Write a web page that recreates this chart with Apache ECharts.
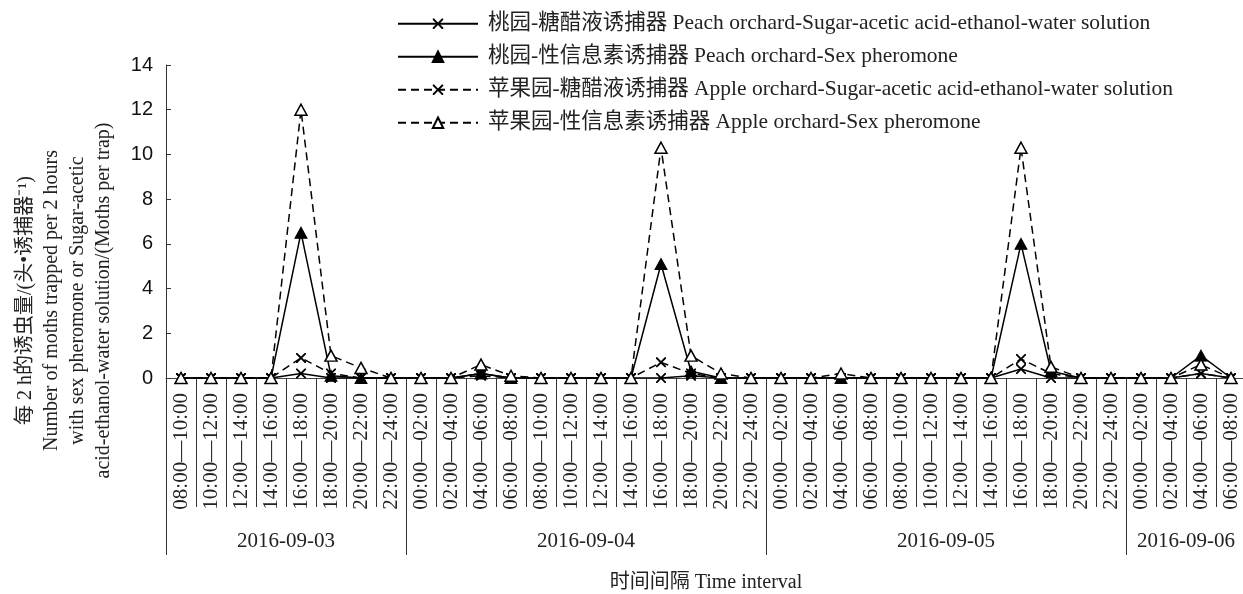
<!DOCTYPE html>
<html><head><meta charset="utf-8">
<script src="https://cdn.jsdelivr.net/npm/echarts@6/dist/echarts.min.js"></script>
<style>html,body{margin:0;padding:0;background:#fff}#chart{width:1243px;height:594px}</style>
</head><body><div id="chart"></div>
<script>
// ---- data ----
const days = ['2016-09-03', '2016-09-04', '2016-09-05', '2016-09-06'];
const daySlotCounts = [8, 12, 12, 4];
const timeSlots = [
  '08:00—10:00','10:00—12:00','12:00—14:00','14:00—16:00','16:00—18:00','18:00—20:00','20:00—22:00','22:00—24:00',
  '00:00—02:00','02:00—04:00','04:00—06:00','06:00—08:00','08:00—10:00','10:00—12:00','12:00—14:00','14:00—16:00','16:00—18:00','18:00—20:00','20:00—22:00','22:00—24:00',
  '00:00—02:00','02:00—04:00','04:00—06:00','06:00—08:00','08:00—10:00','10:00—12:00','12:00—14:00','14:00—16:00','16:00—18:00','18:00—20:00','20:00—22:00','22:00—24:00',
  '00:00—02:00','02:00—04:00','04:00—06:00','06:00—08:00'
];
const seriesNames = [
  '桃园-糖醋液诱捕器 Peach orchard-Sugar-acetic acid-ethanol-water solution',
  '桃园-性信息素诱捕器 Peach orchard-Sex pheromone',
  '苹果园-糖醋液诱捕器 Apple orchard-Sugar-acetic acid-ethanol-water solution',
  '苹果园-性信息素诱捕器 Apple orchard-Sex pheromone'
];
const peachSugar = [0,0,0,0,0.2,0,0,0, 0,0,0.2,0,0,0,0,0,0,0.1,0,0, 0,0,0,0,0,0,0,0,0.4,0,0,0, 0,0,0.2,0];
const peachSex   = [0,0,0,0,6.5,0.1,0,0, 0,0,0.2,0,0,0,0,0,5.1,0.3,0,0, 0,0,0,0,0,0,0,0,6.0,0.3,0,0, 0,0,1.0,0];
const appleSugar = [0,0,0,0,0.9,0.2,0,0, 0,0,0.1,0,0,0,0,0,0.7,0.2,0,0, 0,0,0,0,0,0,0,0,0.85,0.2,0,0, 0,0,0.2,0];
const appleSex   = [0,0,0,0,12,1.0,0.45,0, 0,0,0.6,0.1,0,0,0,0,10.3,1.0,0.2,0, 0,0,0.2,0,0,0,0,0,10.3,0.5,0,0, 0,0,0.6,0];
const yMin = 0, yMax = 14, yStep = 2;
const yAxisName = '每 2 h的诱虫量/(头•诱捕器⁻¹)\nNumber of moths trapped per 2 hours\nwith sex pheromone or Sugar-acetic\nacid-ethanol-water solution/(Moths per trap)';
const xAxisName = '时间间隔 Time interval';

// ---- derived day-boundary axis (boundaries 0..N) ----
const nSlots = timeSlots.length;
const dayEdges = [0];
const dayLabelAt = {};
let acc = 0;
daySlotCounts.forEach((c, i) => { dayLabelAt[acc + c / 2] = days[i]; acc += c; dayEdges.push(acc); });
const boundaryData = [];
for (let b = 0; b <= nSlots; b++) boundaryData.push('b' + b);

const SERIF = "'Liberation Serif','Times New Roman','Noto Sans CJK SC',serif";
const SANS = "'Liberation Sans',Arial,sans-serif";
const X_PATH = 'path://M0,0L1.3,0L5,3.7L8.7,0L10,0L10,1.3L6.3,5L10,8.7L10,10L8.7,10L5,6.3L1.3,10L0,10L0,8.7L3.7,5L0,1.3Z';

function mk(name, data, dashed, symbol, fill, size, border) {
  return {
    name, type: 'line', data, xAxisIndex: 0, yAxisIndex: 0,
    symbol, symbolSize: size, showSymbol: true, showAllSymbol: true,
    lineStyle: { color: '#000', width: 1.5, type: dashed ? [8, 5] : 'solid' },
    itemStyle: { color: fill, borderColor: '#000', borderWidth: border, opacity: 1 },
    emphasis: { disabled: true }, animation: false
  };
}

const chart = echarts.init(document.getElementById('chart'), null, { renderer: 'canvas' });
chart.setOption({
  backgroundColor: '#fff',
  animation: false,
  grid: { left: 166, top: 65, width: 1080, height: 313, outerBoundsMode: 'none', containLabel: false },
  legend: {
    orient: 'vertical', left: 392, top: 8,
    itemWidth: 80, itemHeight: 13, itemGap: 11.5,
    data: seriesNames,
    textStyle: { fontFamily: SERIF, fontSize: 21.5, color: '#222', lineHeight: 20, padding: [0, 0, 0, 5] },
    selectedMode: false
  },
  xAxis: [
    {
      type: 'category', position: 'bottom', data: timeSlots, boundaryGap: true,
      axisLine: { show: true, onZero: false, lineStyle: { color: '#444', width: 1 } },
      axisTick: { show: true, interval: 0, length: 129, lineStyle: { color: '#333', width: 1 } },
      axisLabel: { interval: 0, rotate: 90, margin: 15, fontFamily: SERIF, fontSize: 21, color: '#222' },
      splitLine: { show: false }
    },
    {
      type: 'category', position: 'bottom', data: boundaryData, boundaryGap: false,
      axisLine: { show: false, onZero: false },
      axisTick: { show: true, length: 177, interval: (i) => dayEdges.indexOf(i) >= 0, lineStyle: { color: '#333', width: 1 } },
      axisLabel: { interval: 0, margin: 153, fontFamily: SERIF, fontSize: 21, color: '#222',
        formatter: (v, i) => dayLabelAt[i] || '' },
      splitLine: { show: false },
      name: xAxisName, nameLocation: 'middle', nameGap: 195,
      nameTextStyle: { fontFamily: SERIF, fontSize: 20, color: '#222' }
    }
  ],
  yAxis: {
    type: 'value', min: yMin, max: yMax, interval: yStep,
    axisLine: { show: true, lineStyle: { color: '#333', width: 1 } },
    axisTick: { show: true, inside: true, length: 5, lineStyle: { color: '#333' } },
    axisLabel: { fontFamily: SANS, fontSize: 20, color: '#111', margin: 13 },
    splitLine: { show: false },
    name: yAxisName, nameLocation: 'middle', nameRotate: 90, nameGap: 49,
    nameTextStyle: { fontFamily: SERIF, fontSize: 20, color: '#222', lineHeight: 26, align: 'center', padding: [0, 158, 0, 0] }
  },
  series: [
    mk(seriesNames[0], peachSugar, false, X_PATH, '#000', 10, 0),
    mk(seriesNames[1], peachSex, false, 'triangle', '#000', [12, 11], 1),
    mk(seriesNames[2], appleSugar, true, X_PATH, '#000', 10, 0),
    mk(seriesNames[3], appleSex, true, 'triangle', '#fff', [12, 11], 1.5)
  ]
});
</script></body></html>
